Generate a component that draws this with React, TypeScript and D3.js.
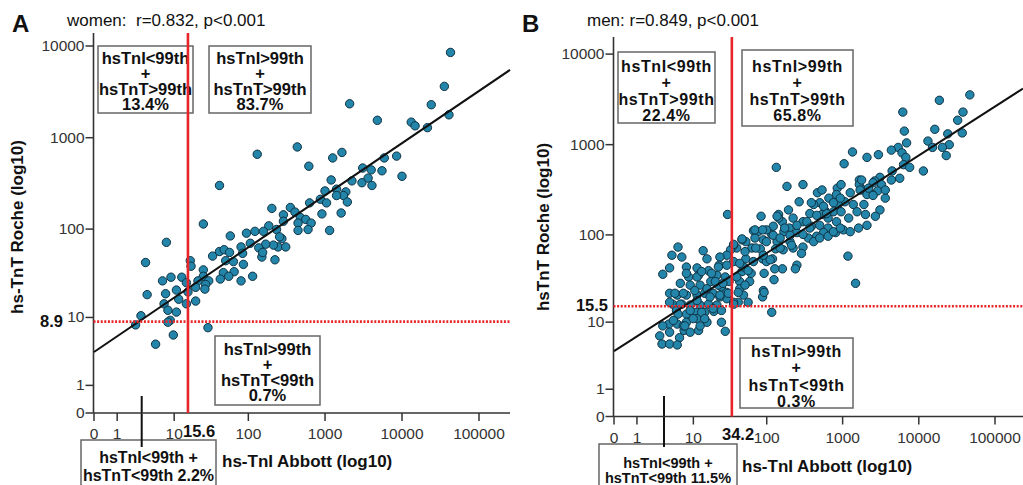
import React from 'react';
import * as d3 from 'd3';

// Values are plotted on log10(value + 1) axes; points stored in those log10 units [hs-TnI, hs-TnT]
const xTickValues = [0, 1, 10, 100, 1000, 10000, 100000];
const yTickValues = [0, 1, 10, 100, 1000, 10000];

const womenPoints: [number, number][] = [
  [4.63,3.93],[4.55,3.56],[4.38,3.36],[4.61,3.25],[4.33,3.11],[4.12,3.17],[4.17,3.13],[3.32,3.37],[3.68,3.19],[2.64,2.90],
  [2.12,2.82],[3.22,2.84],[3.10,2.78],[2.79,2.69],[3.77,2.78],[3.93,2.80],[3.49,2.67],[3.60,2.65],[3.74,2.64],[4.00,2.58],
  [1.63,2.48],[3.08,2.54],[3.35,2.53],[3.48,2.51],[3.56,2.56],[3.61,2.48],[3.15,2.44],[3.00,2.42],[3.27,2.41],[3.24,2.37],
  [3.15,2.37],[2.94,2.33],[3.02,2.29],[3.29,2.30],[2.80,2.29],[3.21,2.18],[2.96,2.17],[2.31,2.23],[2.55,2.24],[2.61,2.19],
  [2.46,2.16],[2.68,2.13],[2.75,2.11],[2.82,2.07],[2.65,2.07],[2.46,2.09],[2.27,2.04],[2.37,2.00],[2.09,1.98],[2.20,1.98],
  [1.98,1.96],[2.65,1.99],[2.78,2.00],[3.06,1.99],[2.44,1.90],[2.39,1.81],[2.49,1.81],[2.33,1.83],[2.23,1.84],[2.14,1.80],
  [2.03,1.85],[1.91,1.81],[1.77,1.93],[1.42,2.06],[0.94,1.86],[0.67,1.64],[1.54,1.71],[1.63,1.76],[1.69,1.78],[1.76,1.75],
  [1.93,1.74],[2.18,1.70],[1.71,1.66],[1.81,1.65],[1.94,1.62],[2.35,1.67],[2.19,1.75],[1.25,1.66],[1.26,1.60],[1.42,1.56],
  [1.68,1.53],[1.82,1.54],[1.42,1.49],[1.75,1.49],[1.64,1.46],[1.91,1.44],[2.06,1.49],[1.35,1.44],[1.49,1.44],[1.45,1.40],
  [1.32,1.37],[1.44,1.35],[1.14,1.48],[1.00,1.48],[0.89,1.44],[1.20,1.42],[1.07,1.34],[0.93,1.30],[0.69,1.29],[1.10,1.24],
  [1.20,1.19],[1.32,1.22],[0.91,1.19],[0.96,1.12],[1.07,1.10],[0.61,1.06],[0.99,1.01],[0.96,0.99],[0.54,0.96],[1.48,0.93],
  [0.80,0.75],[1.03,0.85],[1.22,1.32],[2.41,1.92]
];

const menPoints: [number, number][] = [
  [4.67,3.55],[4.27,3.49],[3.79,3.36],[4.58,3.36],[4.51,3.27],[4.38,3.12],[4.57,3.13],[4.21,3.17],[3.81,3.15],[4.12,3.04],
  [4.40,3.00],[4.18,2.97],[4.31,2.97],[4.36,2.88],[3.84,3.02],[3.73,2.97],[3.64,2.94],[3.78,2.91],[3.83,2.86],[3.80,2.78],
  [3.88,2.75],[4.06,2.71],[3.13,2.92],[3.32,2.86],[3.47,2.89],[3.02,2.79],[2.13,2.75],[3.65,2.71],[3.75,2.63],[3.64,2.61],
  [3.49,2.64],[3.42,2.60],[3.22,2.61],[3.22,2.56],[3.51,2.56],[3.46,2.49],[3.39,2.45],[3.27,2.50],[3.32,2.45],[3.56,2.41],
  [3.49,2.28],[2.27,2.54],[2.48,2.56],[2.43,2.37],[2.29,2.28],[2.67,2.47],[2.73,2.50],[2.93,2.52],[2.98,2.56],[2.92,2.45],
  [3.03,2.37],[2.82,2.41],[2.94,2.34],[3.14,2.34],[3.28,2.34],[2.70,2.36],[2.62,2.34],[2.77,2.27],[2.88,2.26],[2.98,2.26],
  [3.19,2.26],[3.08,2.19],[3.30,2.23],[2.81,2.19],[2.73,2.23],[2.57,2.24],[2.48,2.15],[2.35,2.19],[2.21,2.15],[2.16,2.23],
  [1.93,2.21],[2.59,2.10],[2.70,2.11],[2.92,2.15],[2.81,2.08],[2.91,2.03],[3.01,2.06],[2.75,2.03],[2.66,1.99],[2.55,1.97],
  [2.40,2.03],[2.30,2.08],[2.23,2.04],[2.09,2.10],[2.07,2.01],[2.00,2.06],[1.89,2.04],[1.83,2.05],[1.85,1.97],[1.96,1.95],
  [2.14,1.93],[2.31,1.93],[2.48,1.87],[2.35,1.86],[2.22,1.84],[2.12,1.85],[2.40,1.67],[2.38,1.63],[2.21,1.63],[2.08,1.74],
  [1.95,1.74],[1.92,1.85],[1.81,1.86],[1.73,1.93],[1.68,1.95],[1.61,1.86],[1.57,1.89],[1.73,1.74],[1.83,1.71],[2.00,1.71],
  [2.11,1.63],[1.97,1.58],[1.80,1.58],[1.68,1.60],[1.57,1.71],[1.65,1.49],[1.78,1.49],[1.96,1.39],[1.95,1.32],[2.07,1.15],
  [3.07,1.77],[3.17,1.47],[1.49,2.23],[1.53,1.84],[1.48,1.78],[1.39,1.76],[1.38,1.67],[1.48,1.67],[1.35,1.56],[1.46,1.54],
  [1.51,1.49],[1.41,1.43],[1.48,1.37],[1.48,1.30],[1.63,1.26],[1.76,1.26],[1.70,1.34],[1.65,1.41],[1.46,0.94],
  [0.84,1.87],[0.76,1.78],[0.89,1.76],[0.64,1.57],[0.73,1.64],[0.95,1.65],[1.17,1.83],[1.22,1.74],[1.09,1.64],[1.24,1.61],
  [1.11,1.56],[0.98,1.54],[0.87,1.47],[1.00,1.45],[1.13,1.45],[1.27,1.49],[1.37,1.45],[0.73,1.36],[0.83,1.34],[0.95,1.34],
  [1.09,1.34],[1.19,1.36],[1.30,1.36],[1.39,1.32],[0.89,1.24],[1.00,1.23],[1.13,1.23],[1.24,1.24],[1.35,1.23],[0.77,1.24],
  [0.82,1.17],[0.95,1.13],[1.08,1.15],[1.19,1.15],[1.31,1.16],[1.41,1.17],[0.72,1.02],[0.83,1.02],[0.95,1.04],[1.09,1.08],
  [1.22,1.04],[0.92,0.95],[1.00,0.93],[1.11,0.95],[0.86,0.87],[0.60,0.89],[0.63,0.80],[0.73,0.80],[0.83,0.79],[0.64,1.00],
  [1.41,1.04],[0.91,1.00],[0.73,0.93],
  [2.10,1.51],[1.97,1.37],[1.70,1.65],[1.72,1.82],[1.86,1.86],[1.96,1.78],[2.05,1.73],[2.18,1.86],[2.33,1.89],[2.46,1.80],
  [2.62,1.93],[2.70,1.97],[2.81,1.99],[2.88,2.04],[2.97,2.08],[3.10,2.04],[3.21,2.08],[3.32,2.11],[3.43,2.21],[2.79,2.24],
  [2.66,2.22],[2.53,2.15],[2.40,2.11],[2.24,2.08],[2.09,2.00],[2.00,1.93],[2.16,2.19],[2.75,2.32],[2.88,2.36],[2.97,2.41],
  [3.10,2.47],[3.23,2.50],[3.40,2.58],[2.59,2.36],[2.18,1.97],[2.31,2.00],[2.48,2.01],[2.57,2.08],
  [3.56,2.50],[3.34,2.52],[3.25,2.61],[3.40,2.44],
  [0.95,1.58],[1.09,1.54],[1.15,1.60],[1.28,1.58],[1.37,1.65],[1.33,1.49],[1.43,1.47],[1.22,1.41],[1.06,1.39],[0.91,1.36],
  [0.80,1.36],[0.73,1.26],[0.87,1.24],[1.09,1.28],[1.26,1.32],[1.39,1.34],[1.50,1.36],[1.00,1.17],[1.15,1.15],[1.30,1.19],
  [0.84,1.13],[0.78,1.06],[1.04,1.08],[1.19,1.08],[0.93,1.00],[1.13,1.00],[1.65,1.69],[1.76,1.61],[1.61,1.54],[1.72,1.45],
  [1.63,1.37],[1.57,1.26],[2.14,2.21],[1.85,2.06],[1.95,2.06],[1.68,1.96],[1.57,1.90],[1.57,1.24]
];

// regression fit in log10 units: TnT = intercept + slope * TnI
const womenFit = { intercept: 0.665, slope: 0.569 };
const menFit = { intercept: 0.722, slope: 0.54 };

// 99th percentile cut-offs (ng/L)
const womenCut = { tni: 15.6, tnt: 8.9 };
const menCut = { tni: 34.2, tnt: 15.5 };

// quadrant percentages: [TnI<,TnT>], [TnI>,TnT>], [TnI>,TnT<], [TnI<,TnT<]
const womenPct = ['13.4%', '83.7%', '0.7%', '2.2%'];
const menPct = ['22.4%', '65.8%', '0.3%', '11.5%'];

const womenStats = 'women:  r=0.832, p<0.001';
const menStats = 'men: r=0.849, p<0.001';

const lg = (v: number) => Math.log10(v + 1);
const FONT = '"Liberation Sans", Arial, sans-serif';

type Layout = {
  letter: string; letterX: number;
  statsX: number;
  yLabel: string; yLabelX: number;
  axisX: number; axisY: number; x0: number; xUnit: number; yUnit: number;
  top: number; right: number;
  xLabelX: number; xLabelY: number;
  tnICutLabelX: number; tnICutLabelY: number;
  tnTCutLabelRight: number; tnTCutLabelY: number;
  boxes: { x: number; y: number; w: number; h: number; cx: number; base: number[] }[];
  bottom: { x: number; y: number; w: number; h: number; cx: number; base: number[]; fs: number };
  pointerX: number;
  boxFs: number; ls: number;
};

const layoutA: Layout = {
  letter: 'A', letterX: 12, statsX: 67,
  yLabel: 'hs-TnT Roche (log10)', yLabelX: 23,
  axisX: 93.5, axisY: 413, x0: 94, xUnit: 77, yUnit: 91.75,
  top: 33, right: 510,
  xLabelX: 222, xLabelY: 467,
  tnICutLabelX: 183, tnICutLabelY: 437,
  tnTCutLabelRight: 63, tnTCutLabelY: 327,
  boxes: [
    { x: 98, y: 46, w: 95, h: 67, cx: 145.5, base: [64, 79, 95, 110] },
    { x: 209, y: 46, w: 102, h: 67, cx: 260, base: [64, 79, 95, 110] },
    { x: 215, y: 336, w: 105, h: 69, cx: 267.5, base: [355, 370, 386, 401] },
  ],
  bottom: { x: 81, y: 440, w: 135, h: 60, cx: 148.5, base: [463, 481], fs: 16 },
  pointerX: 141.7,
  boxFs: 16.5, ls: 0,
};

const layoutB: Layout = {
  letter: 'B', letterX: 522, statsX: 587,
  yLabel: 'hsTnT Roche (log10)', yLabelX: 549,
  axisX: 613.5, axisY: 416.5, x0: 614, xUnit: 76.2, yUnit: 90.6,
  top: 37, right: 1023,
  xLabelX: 742, xLabelY: 472,
  tnICutLabelX: 722, tnICutLabelY: 440,
  tnTCutLabelRight: 608, tnTCutLabelY: 311,
  boxes: [
    { x: 618, y: 52, w: 97, h: 71, cx: 666.5, base: [72, 88, 105, 121] },
    { x: 742, y: 50, w: 111, h: 76, cx: 797.5, base: [72, 88, 105, 121] },
    { x: 740, y: 338, w: 113, h: 70, cx: 796.5, base: [357, 373, 391, 407] },
  ],
  bottom: { x: 599, y: 444, w: 138, h: 60, cx: 668, base: [468, 483], fs: 14.5 },
  pointerX: 664,
  boxFs: 16, ls: 0.6,
};

function Panel({ L, points, fit, cut, pct, stats }: { L: Layout; points: [number, number][]; fit: { intercept: number; slope: number }; cut: { tni: number; tnt: number }; pct: string[]; stats: string }) {
  const x = d3.scaleLinear().domain([0, 5]).range([L.x0, L.x0 + 5 * L.xUnit]);
  const y = d3.scaleLinear().domain([0, 4]).range([L.axisY, L.axisY - 4 * L.yUnit]);
  const uMax = x.invert(L.right);
  const fitLine = d3.line<number>().x((u) => x(u)).y((u) => y(fit.intercept + fit.slope * u))([0, uMax]) || '';
  const cx = x(lg(cut.tni));
  const cy = y(lg(cut.tnt));
  const boxTexts = [
    ['hsTnI<99th', '+', 'hsTnT>99th', pct[0]],
    ['hsTnI>99th', '+', 'hsTnT>99th', pct[1]],
    ['hsTnI>99th', '+', 'hsTnT<99th', pct[2]],
  ];
  const tickColor = '#333';
  return (
    <g fontFamily={FONT}>
      <text x={L.letterX} y={32} fontSize={24} fontWeight="bold" fill="#111">{L.letter}</text>
      <text x={L.statsX} y={26} fontSize={17} fill="#111" style={{ whiteSpace: 'pre' }}>{stats}</text>
      <text transform={`translate(${L.yLabelX},227) rotate(-90)`} textAnchor="middle" fontSize={17} fontWeight="bold" fill="#111">{L.yLabel}</text>
      {/* boxes */}
      {L.boxes.map((b, i) => (
        <g key={i}>
          <rect x={b.x} y={b.y} width={b.w} height={b.h} fill="#fff" stroke="#666" strokeWidth={1.5} />
          {boxTexts[i].map((t, j) => (
            <text key={j} x={b.cx} y={b.base[j]} textAnchor="middle" fontSize={L.boxFs} fontWeight="bold" letterSpacing={L.ls} fill="#111">{t}</text>
          ))}
        </g>
      ))}
      <rect x={L.bottom.x} y={L.bottom.y} width={L.bottom.w} height={L.bottom.h} fill="#fff" stroke="#666" strokeWidth={1.5} />
      <text x={L.bottom.cx} y={L.bottom.base[0]} textAnchor="middle" fontSize={L.bottom.fs} fontWeight="bold" fill="#111">hsTnI&lt;99th +</text>
      <text x={L.bottom.cx} y={L.bottom.base[1]} textAnchor="middle" fontSize={L.bottom.fs} fontWeight="bold" fill="#111">{`hsTnT<99th ${pct[3]}`}</text>
      <line x1={L.pointerX} x2={L.pointerX} y1={396} y2={447} stroke="#111" strokeWidth={2} />
      {/* axes */}
      <line x1={L.axisX} x2={L.axisX} y1={L.top} y2={L.axisY} stroke={tickColor} strokeWidth={1.6} />
      <line x1={L.axisX} x2={L.right} y1={L.axisY} y2={L.axisY} stroke={tickColor} strokeWidth={1.6} />
      {yTickValues.map((t) => (
        <g key={'y' + t}>
          <line x1={L.axisX - 8} x2={L.axisX} y1={y(lg(t))} y2={y(lg(t))} stroke={tickColor} strokeWidth={1.5} />
          <text x={L.axisX - 9} y={y(lg(t)) + 5} textAnchor="end" fontSize={15.5} fill={tickColor}>{t}</text>
        </g>
      ))}
      {xTickValues.map((t) => (
        <g key={'x' + t}>
          <line x1={x(lg(t))} x2={x(lg(t))} y1={L.axisY} y2={L.axisY + 8} stroke={tickColor} strokeWidth={1.5} />
          <text x={x(lg(t))} y={L.axisY + 26} textAnchor="middle" fontSize={15.5} fill={tickColor}>{t}</text>
        </g>
      ))}
      <text x={L.xLabelX} y={L.xLabelY} fontSize={17} fontWeight="bold" fill="#111">hs-TnI Abbott (log10)</text>
      <text x={L.tnICutLabelX} y={L.tnICutLabelY} fontSize={16.5} fontWeight="bold" fill="#111">{cut.tni}</text>
      <text x={L.tnTCutLabelRight} y={L.tnTCutLabelY} textAnchor="end" fontSize={16.5} fontWeight="bold" fill="#111">{cut.tnt}</text>
      {/* points */}
      {points.map((p, i) => (
        <circle key={i} cx={x(p[0])} cy={y(p[1])} r={4.2} fill="#2385a9" stroke="#0f3344" strokeWidth={1} />
      ))}
      <path d={fitLine} stroke="#111" strokeWidth={2} fill="none" />
      {/* cut-off lines */}
      <line x1={cx} x2={cx} y1={L.top} y2={L.axisY} stroke="#e8262a" strokeWidth={2.6} />
      <line x1={L.axisX} x2={L.right} y1={cy} y2={cy} stroke="#e8262a" strokeWidth={2.6} strokeDasharray="2 1.6" />
    </g>
  );
}

export default function App() {
  return (
    <svg width={1023} height={485} style={{ position: 'absolute', left: 0, top: 0, background: '#fff' }}>
      <rect width={1023} height={485} fill="#fff" />
      <Panel L={layoutA} points={womenPoints} fit={womenFit} cut={womenCut} pct={womenPct} stats={womenStats} />
      <Panel L={layoutB} points={menPoints} fit={menFit} cut={menCut} pct={menPct} stats={menStats} />
    </svg>
  );
}
